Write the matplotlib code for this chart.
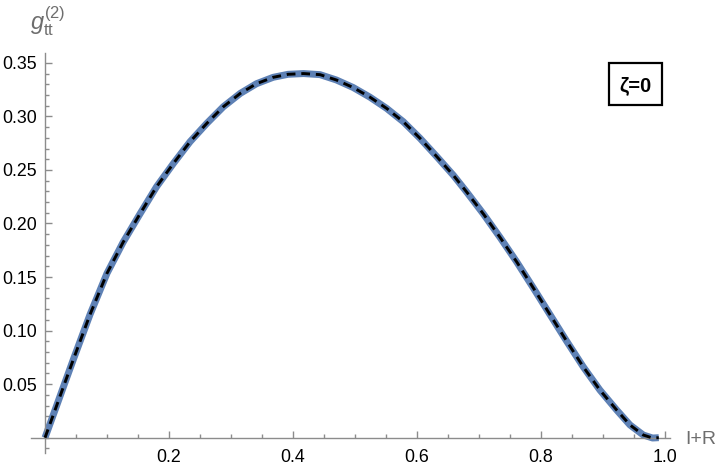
import matplotlib
matplotlib.use('Agg')
import matplotlib.pyplot as plt
from matplotlib.patches import Rectangle
from matplotlib.ticker import MultipleLocator, FixedLocator

plt.rcParams['font.family'] = ['Liberation Sans', 'DejaVu Sans']
plt.rcParams['mathtext.fontset'] = 'custom'
plt.rcParams['mathtext.rm'] = 'Liberation Sans'
plt.rcParams['mathtext.it'] = 'Liberation Sans:italic'

# values
x_pts = [0.0, 0.0188, 0.030, 0.046, 0.0726, 0.100, 0.126, 0.153,
         0.180, 0.207, 0.234, 0.261, 0.2876, 0.315, 0.341, 0.368, 0.392, 0.417,
         0.4435, 0.470, 0.497, 0.524, 0.551, 0.578, 0.605, 0.632, 0.659, 0.680,
         0.707, 0.734, 0.761, 0.788, 0.815, 0.841, 0.868, 0.895, 0.922, 0.9435,
         0.965, 0.980, 0.990]
g_pts = [0.0, 0.030, 0.048, 0.0735, 0.115, 0.1535, 0.1825, 0.2088,
         0.2344, 0.256, 0.2764, 0.2935, 0.309, 0.3215, 0.3305, 0.3365, 0.3393, 0.3400,
         0.3390, 0.334, 0.327, 0.318, 0.3075, 0.295, 0.2795, 0.2624, 0.2448, 0.2295,
         0.2090, 0.1870, 0.1640, 0.1395, 0.1145, 0.0905, 0.0663, 0.0445, 0.0259, 0.0119,
         0.0025, -0.0003, 0.0]
x_ticks = [0.2, 0.4, 0.6, 0.8, 1.0]
y_ticks = [0.05, 0.10, 0.15, 0.20, 0.25, 0.30, 0.35]
label = 'ζ=0'

axis_col = '#8c8c8c'
label_col = '#6e6e6e'

fig = plt.figure(figsize=(7.2, 4.74), dpi=100)
ax = fig.add_axes([31/720, 1-453/474, 639/720, 400/474])

# data points (blue) and the fitted curve (black dashes) on top
ax.plot(x_pts, g_pts, color='#5e81b5', lw=5.0, solid_capstyle='butt',
        solid_joinstyle='round', zorder=2)
ax.plot(x_pts, g_pts, color='black', lw=2.1, dashes=(3.0, 2.0), zorder=3)

ax.set_xlim(-0.0226, 1.0081)
ax.set_ylim(-0.0143, 0.3592)

for s in ['top', 'right']:
    ax.spines[s].set_visible(False)
ax.spines['left'].set_position(('data', 0))
ax.spines['bottom'].set_position(('data', 0))
for s in ['left', 'bottom']:
    ax.spines[s].set_color(axis_col)
    ax.spines[s].set_linewidth(1.0)

ax.xaxis.set_major_locator(FixedLocator(x_ticks))
ax.xaxis.set_minor_locator(MultipleLocator(0.05))
ax.yaxis.set_major_locator(FixedLocator(y_ticks))
ax.yaxis.set_minor_locator(MultipleLocator(0.01))
ax.set_xticklabels(['%.1f' % v for v in x_ticks])
ax.set_yticklabels(['%.2f' % v for v in y_ticks])

ax.tick_params(which='both', direction='in', color=axis_col, width=1.0,
               labelsize=12.8, labelcolor='black')
ax.tick_params(which='major', length=5)
ax.tick_params(which='minor', length=2.6)
ax.tick_params(axis='x', which='major', pad=8)
ax.tick_params(axis='y', which='major', pad=6)

fig.text(30/720, 1-29/474, r'$g_{\rm tt}^{(2)}$', color=label_col,
         fontsize=17, ha='left', va='baseline')
fig.text(685/720, 1-440/474, 'I+R', color=label_col, fontsize=14,
         ha='left', va='center')

fig.patches.append(Rectangle((609/720, 1-105/474), 53/720, 42/474,
                             transform=fig.transFigure, fill=False,
                             edgecolor='black', lw=1.6))
fig.text(635.5/720, 1-86/474, label, fontsize=14.5, fontweight='bold',
         ha='center', va='center')

plt.savefig('out.png', dpi=100)
